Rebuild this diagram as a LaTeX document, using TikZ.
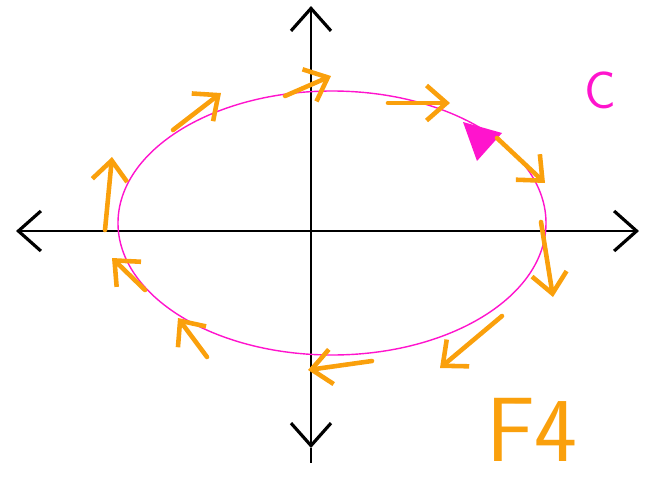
\documentclass[tikz,border=0pt]{standalone}
\usepackage{tikz}
\usetikzlibrary{positioning,arrows.meta}
\definecolor{fieldorange}{RGB}{250,160,12}
\definecolor{curvepink}{RGB}{255,20,205}

\begin{document}
\begin{tikzpicture}[
x=0.02cm, y=-0.02cm,
axis/.style={line width=1.1pt, black, {Straight Barb[length=4.5mm, width=8mm, line width=1.8pt]}-{Straight Barb[length=4.5mm, width=8mm, line width=1.8pt]}},
curve/.style={line width=0.8pt, curvepink},
field/.style={-{Straight Barb[length=4mm, width=7mm]}, line width=2.6pt, fieldorange, line cap=round, line join=round},
label/.style={inner sep=0pt, font=\sffamily}
]
\useasboundingbox (0,0) rectangle (650,484);
% axes
\coordinate (xl) at (16,231);
\coordinate (xr) at (639,231);
\coordinate (yt) at (311,6);
\coordinate (yb) at (311,448);
\draw[axis] (xl) -- (xr);
\draw[axis] (yb) -- (yt);
\draw[line width=1.1pt] (yb) -- (311,463);
% curve C
\coordinate (o) at (332,223);
\draw[curve] (o) ellipse [x radius=214, y radius=132];
\fill[curvepink] (463,122) -- (502,133) -- (477,161) -- cycle;
% vector field, clockwise
\draw[field] (285,96) -- (331,76);
\draw[field] (388,103) -- (450,103);
\draw[field] (497,138) -- (545,183);
\draw[field] (541,222) -- (553,297);
\draw[field] (502,316) -- (440,368);
\draw[field] (372,361) -- (308,370);
\draw[field] (207,357) -- (178,318);
\draw[field] (145,290) -- (112,258);
\draw[field] (105,230) -- (112,157);
\draw[field] (173,130) -- (221,93);
% labels
\node[label, text=curvepink, font=\sffamily\fontsize{30}{30}\selectfont] (c) at (600,90) {C};
\node[label, text=fieldorange, font=\sffamily\fontsize{52}{52}\selectfont] (f) at (532,430) {F4};
\end{tikzpicture}
\end{document}
